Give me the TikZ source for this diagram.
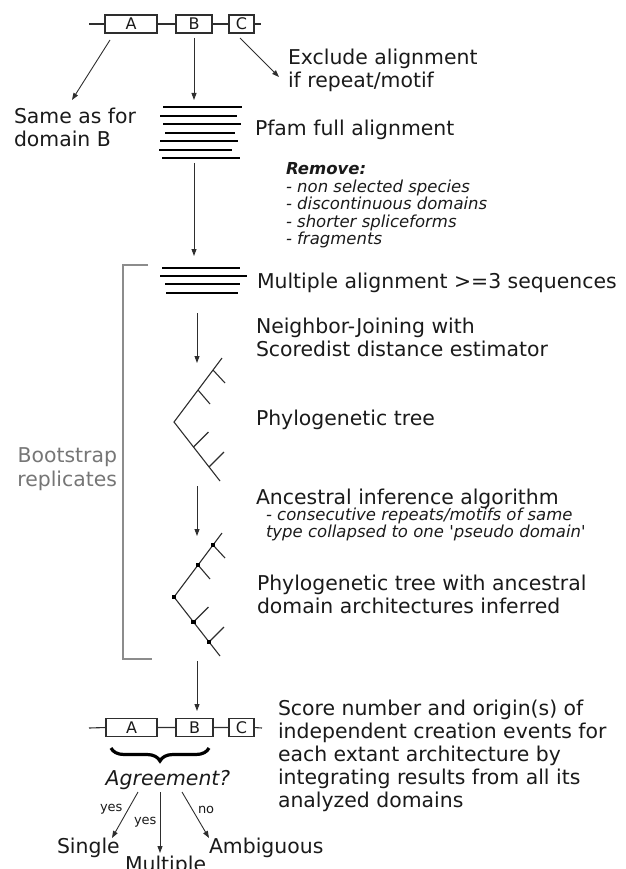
\documentclass[tikz,border=0pt]{standalone}
\usepackage{fontspec}
\setmainfont{DejaVu Sans}
\usetikzlibrary{arrows.meta,decorations.pathreplacing}
\definecolor{ink}{HTML}{1A1A1A}
\definecolor{arr}{HTML}{2E2E2E}
\definecolor{bgray}{HTML}{8C8C8C}
\definecolor{tgray}{HTML}{767676}
\begin{document}
\begin{tikzpicture}[x=1pt,y=-1pt,
  every node/.style={inner sep=0pt, outer sep=0pt, text=ink},
  lbl/.style={anchor=base west, font=\fontsize{20.4}{23}\selectfont},
  blk/.style={anchor=north west, align=left, font=\fontsize{20.4}{23}\selectfont},
  iblk/.style={anchor=north west, align=left, font=\fontsize{16.5}{17.5}\selectfont\itshape},
  tiny/.style={anchor=base west, font=\fontsize{13}{13}\selectfont},
  dbox/.style={draw=arr, line width=1.1pt, minimum height=18pt, font=\fontsize{16}{16}\selectfont},
  link/.style={draw=arr, line width=1.1pt},
  flow/.style={draw=arr, line width=0.9pt, -{Triangle[length=7pt,width=5pt]}},
  aln/.style={draw=black, line width=2pt},
  tree/.style={draw=arr, line width=1.1pt},
  brk/.style={draw=bgray, line width=2.5pt},
  dotn/.style={fill=black, minimum size=4.5pt, inner sep=0pt},
  phylo/.pic={
    \draw[tree] (48,-64) -- (0,0) -- (46,59);
    \draw[tree] (24,-32) -- ++(12,14);
    \draw[tree] (39,-52) -- ++(12,13);
    \draw[tree] (19.5,25) -- ++(15,-15);
    \draw[tree] (35,45) -- ++(15,-15);
  },
  phylodots/.pic={
    \node[dotn] at (0,0) {};
    \node[dotn] at (24,-32) {};
    \node[dotn] at (39,-52) {};
    \node[dotn] at (19.5,25) {};
    \node[dotn] at (35,45) {};
  }
]
\useasboundingbox (0,0) rectangle (625,869);

% ---------- top domain row ----------
\coordinate (tL) at (89,24);
\coordinate (tR) at (261,24);
\node[dbox, minimum width=52pt] (tA) at (131,24) {A};
\node[dbox, minimum width=36pt] (tB) at (194,24) {B};
\node[dbox, minimum width=25pt] (tC) at (241.5,24) {C};
\draw[link] (tL) -- (tA.west) (tA.east) -- (tB.west) (tB.east) -- (tC.west) (tC.east) -- (tR);

\coordinate (a1s) at (110,40);  \coordinate (a1e) at (72,100);
\coordinate (a2s) at (194,38);  \coordinate (a2e) at (194,100);
\coordinate (a3s) at (240,38);  \coordinate (a3e) at (279,77);
\draw[flow] (a1s) -- (a1e);
\draw[flow] (a2s) -- (a2e);
\draw[flow] (a3s) -- (a3e);

\node[blk] (excl) at (288,49.5) {Exclude alignment\\if repeat/motif};
\node[blk] (same) at (14,108.5) {Same as for\\domain B};

% ---------- Pfam alignment ----------
\draw[aln] (163,107) -- (242,107);
\draw[aln] (160,116) -- (237,116);
\draw[aln] (163,124) -- (241,124);
\draw[aln] (165,133) -- (235,133);
\draw[aln] (160,141) -- (238,141);
\draw[aln] (159,150) -- (232,150);
\draw[aln] (162,158) -- (240,158);
\node[lbl] (pfam) at (255,136) {Pfam full alignment};

\node[iblk] (remove) at (286,162.5) {{\bfseries Remove:}\\- non selected species\\- discontinuous domains\\- shorter spliceforms\\- fragments};

\coordinate (a4s) at (194,163); \coordinate (a4e) at (194,256);
\draw[flow] (a4s) -- (a4e);

% ---------- multiple alignment ----------
\draw[aln] (162,268) -- (240,268);
\draw[aln] (160,276) -- (247,276);
\draw[aln] (165,284) -- (240,284);
\draw[aln] (166,293) -- (238,293);
\node[lbl] (multi) at (257,288) {Multiple alignment >=3 sequences};

\coordinate (a5s) at (197,313); \coordinate (a5e) at (197,363);
\draw[flow] (a5s) -- (a5e);
\node[blk] (nj) at (256,317.5) {Neighbor-Joining with\\Scoredist distance estimator};

% ---------- tree 1 ----------
\pic at (174,422) {phylo};
\node[lbl] (pt1) at (256,425) {Phylogenetic tree};

\coordinate (a6s) at (197,486); \coordinate (a6e) at (197,536);
\draw[flow] (a6s) -- (a6e);
\node[lbl] (anc) at (256,504) {Ancestral inference algorithm};
\node[iblk] (ancnote) at (266,507.5) {- consecutive repeats/motifs of same\\type collapsed to one \textquotesingle pseudo domain\textquotesingle};

% ---------- tree 2 ----------
\pic at (174,597) {phylo};
\pic at (174,597) {phylodots};
\node[blk] (pt2) at (257,574.5) {Phylogenetic tree with ancestral\\domain architectures inferred};

% ---------- bootstrap bracket ----------
\coordinate (bk1) at (148,265);
\coordinate (bk2) at (123,265);
\coordinate (bk3) at (123,659);
\coordinate (bk4) at (152,659);
\draw[brk] (bk1) -- (bk2) -- (bk3) -- (bk4);
\node[anchor=north east, align=right, text=tgray, font=\fontsize{20.4}{24}\selectfont] (boot) at (117,447.5) {Bootstrap\\replicates};

\coordinate (a7s) at (197,661); \coordinate (a7e) at (197,711);
\draw[flow] (a7s) -- (a7e);

% ---------- bottom domain row ----------
\coordinate (bL) at (89,728);
\coordinate (bR) at (262,728);
\node[dbox, minimum width=51pt] (bA) at (131.5,727.5) {A};
\node[dbox, minimum width=37pt] (bB) at (194.5,727.5) {B};
\node[dbox, minimum width=25pt] (bC) at (241.5,727.5) {C};
\draw[link] (bL) -- (bA.west) (bA.east) -- (bB.west) (bB.east) -- (bC.west) (bC.east) -- (bR);

\draw[decorate, decoration={brace, mirror, amplitude=13pt}, line width=3.2pt] (111,748) -- (209,748);

\node[anchor=base, font=\fontsize{20.4}{23}\selectfont\itshape] (agree) at (168,785) {Agreement?};

\node[blk] (score) at (278,699.5) {Score number and origin(s) of\\independent creation events for\\each extant architecture by\\integrating results from all its\\analyzed domains};

\coordinate (b1s) at (138,792); \coordinate (b1e) at (112,838);
\coordinate (b2s) at (160,792); \coordinate (b2e) at (160,853);
\coordinate (b3s) at (182,792); \coordinate (b3e) at (209,838);
\draw[flow] (b1s) -- (b1e);
\draw[flow] (b2s) -- (b2e);
\draw[flow] (b3s) -- (b3e);

\node[tiny] (y1) at (100,811) {yes};
\node[tiny] (y2) at (134,824) {yes};
\node[tiny] (n1) at (198,813) {no};

\node[lbl] (single) at (57,853) {Single};
\node[lbl] (multiple) at (125,871) {Multiple};
\node[lbl] (ambig) at (209,853) {Ambiguous};
\end{tikzpicture}
\end{document}
